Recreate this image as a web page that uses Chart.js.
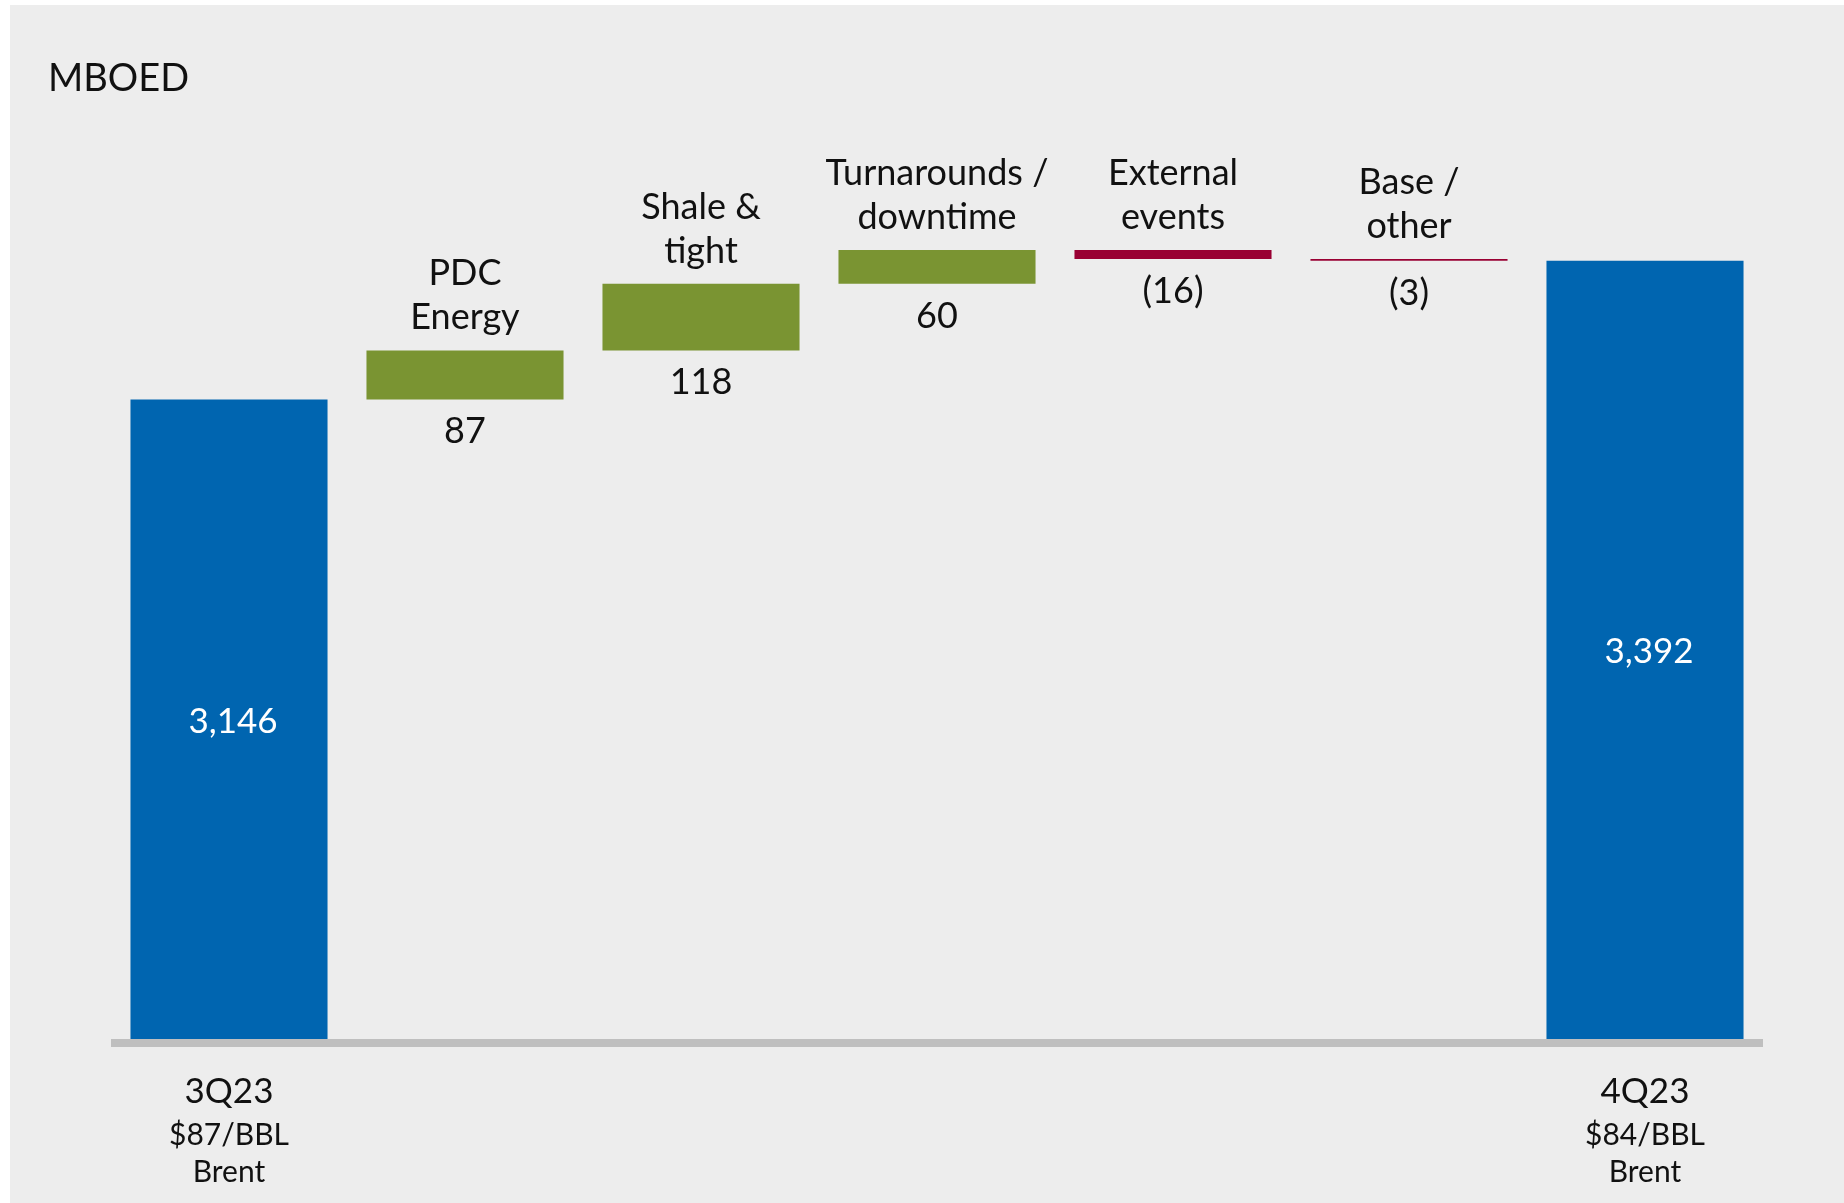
<!DOCTYPE html>
<html>
<head>
<meta charset="utf-8">
<title>MBOED bridge</title>
<script src="https://cdn.jsdelivr.net/npm/chart.js@4.4.1/dist/chart.umd.min.js"></script>
<style>
  html, body { margin: 0; padding: 0; background: #ffffff; }
  canvas { display: block; }
</style>
</head>
<body>
<canvas id="bridge" width="1844" height="1203"></canvas>
<script>
// production bridge, 3Q23 -> 4Q23
const categories = ["3Q23", "PDC Energy", "Shale & tight", "Turnarounds / downtime", "External events", "Base / other", "4Q23"];
const values = [3146, 87, 118, 60, -16, -3, 3392];
const isTotal = [true, false, false, false, false, false, true];
const labelLines = [
  ["3Q23", "$87/BBL", "Brent"],
  ["PDC", "Energy"],
  ["Shale &", "tight"],
  ["Turnarounds /", "downtime"],
  ["External", "events"],
  ["Base /", "other"],
  ["4Q23", "$84/BBL", "Brent"],
];

const BLUE = "#0065b0";
const GREEN = "#7a9432";
const RED = "#990033";
const FONT = "Lato, 'Open Sans', sans-serif";

// floating ranges: totals start at the axis floor, deltas hang off the running sum
const Y_MIN = 2012;
const Y_MAX = 3700;
let running = 0;
const ranges = values.map((v, i) => {
  if (isTotal[i]) { running = v; return [Y_MIN, v]; }
  const from = running;
  running += v;
  return [from, running];
});
const colors = values.map((v, i) => isTotal[i] ? BLUE : (v >= 0 ? GREEN : RED));

function fmtValue(v, total) {
  if (total) return v.toLocaleString("en-US");
  return v < 0 ? "(" + Math.abs(v) + ")" : String(v);
}

const bridgeDecor = {
  id: "bridgeDecor",
  beforeDraw(chart) {
    const ctx = chart.ctx;
    ctx.save();
    ctx.fillStyle = "#ffffff";
    ctx.fillRect(0, 0, chart.width, chart.height);
    ctx.fillStyle = "#ededed";
    ctx.fillRect(10, 5, chart.width - 10, chart.height - 5);
    ctx.restore();
  },
  afterDatasetsDraw(chart) {
    const ctx = chart.ctx;
    const area = chart.chartArea;
    const meta = chart.getDatasetMeta(0);
    ctx.save();

    // axis line under the bars
    ctx.fillStyle = "#bfbfbf";
    ctx.fillRect(area.left, area.bottom, area.right - area.left, 8);

    // unit title
    ctx.fillStyle = "#111111";
    ctx.textAlign = "left";
    ctx.textBaseline = "alphabetic";
    ctx.font = "38px " + FONT;
    ctx.fillText("MBOED", 48, 91);

    ctx.textAlign = "center";
    meta.data.forEach((bar, i) => {
      const x = bar.x;
      const top = Math.min(bar.y, bar.base);
      const bottom = Math.max(bar.y, bar.base);
      const lines = labelLines[i];
      if (isTotal[i]) {
        ctx.fillStyle = "#ffffff";
        ctx.font = "35px " + FONT;
        ctx.textBaseline = "middle";
        ctx.fillText(fmtValue(values[i], true), x + 4, (top + bottom) / 2 + 2);
        ctx.textBaseline = "alphabetic";
        ctx.fillStyle = "#111111";
        ctx.font = "35px " + FONT;
        ctx.fillText(lines[0], x, area.bottom + 64);
        ctx.font = "30px " + FONT;
        ctx.fillText(lines[1], x, area.bottom + 106);
        ctx.fillText(lines[2], x, area.bottom + 143);
      } else {
        ctx.fillStyle = "#111111";
        ctx.font = "36px " + FONT;
        ctx.textBaseline = "alphabetic";
        const lh = 44;
        for (let k = 0; k < lines.length; k++) {
          const yy = top - 21 - (lines.length - 1 - k) * lh;
          ctx.fillText(lines[k], x, yy);
        }
        ctx.fillText(fmtValue(values[i], false), x, bottom + 44);
      }
    });
    ctx.restore();
  }
};

new Chart(document.getElementById("bridge"), {
  type: "bar",
  data: {
    labels: categories,
    datasets: [{
      data: ranges,
      backgroundColor: colors,
      borderWidth: 0,
      barPercentage: 0.835,
      categoryPercentage: 1.0,
    }]
  },
  options: {
    responsive: false,
    animation: false,
    devicePixelRatio: 1,
    layout: { padding: { left: 111, right: 81, top: 87, bottom: 164 } },
    plugins: {
      legend: { display: false },
      tooltip: { enabled: false },
      title: { display: false },
    },
    scales: {
      x: { display: false },
      y: { display: false, min: Y_MIN, max: Y_MAX },
    },
  },
  plugins: [bridgeDecor],
});
</script>
</body>
</html>
